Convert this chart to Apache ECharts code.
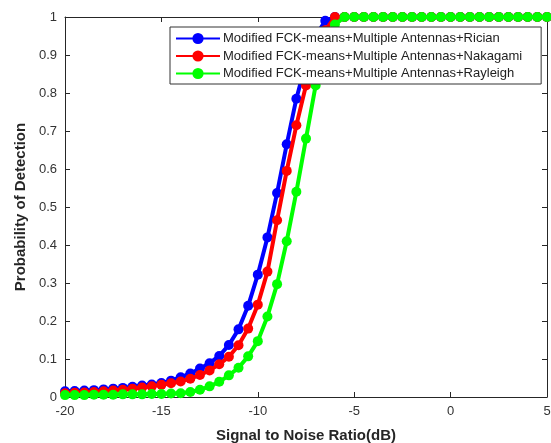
<!DOCTYPE html>
<html>
<head>
<meta charset="utf-8">
<script src="https://cdn.jsdelivr.net/npm/echarts@6/dist/echarts.min.js"></script>
<style>
html, body { margin: 0; padding: 0; background: #fff; }
#chart { width: 551px; height: 443px; }
</style>
</head>
<body>
<div id="chart"></div>
<script>
// 信噪比 (dB)
var snr = [
    -20, -19.5, -19, -18.5, -18, -17.5, -17, -16.5, -16, -15.5,
    -15, -14.5, -14, -13.5, -13, -12.5, -12, -11.5, -11, -10.5,
    -10, -9.5, -9, -8.5, -8, -7.5, -7, -6.5, -6, -5.5,
    -5, -4.5, -4, -3.5, -3, -2.5, -2, -1.5, -1, -0.5,
    0, 0.5, 1, 1.5, 2, 2.5, 3, 3.5, 4, 4.5, 5
]

// 检测概率
var rician = [
    0.015, 0.016, 0.017, 0.018, 0.020, 0.022, 0.024, 0.027, 0.030, 0.033,
    0.037, 0.043, 0.052, 0.062, 0.075, 0.089, 0.108, 0.137, 0.178, 0.240,
    0.322, 0.420, 0.537, 0.665, 0.785, 0.880, 0.950, 0.990, 1, 1,
    1, 1, 1, 1, 1, 1, 1, 1, 1, 1,
    1, 1, 1, 1, 1, 1, 1, 1, 1, 1, 1
]
var nakagami = [
    0.010, 0.011, 0.012, 0.013, 0.015, 0.017, 0.019, 0.022, 0.025, 0.028,
    0.032, 0.036, 0.041, 0.048, 0.058, 0.070, 0.086, 0.106, 0.136, 0.180,
    0.243, 0.330, 0.465, 0.595, 0.715, 0.820, 0.905, 0.965, 1, 1,
    1, 1, 1, 1, 1, 1, 1, 1, 1, 1,
    1, 1, 1, 1, 1, 1, 1, 1, 1, 1, 1
]
var rayleigh = [
    0.005, 0.005, 0.005, 0.006, 0.006, 0.006, 0.007, 0.007, 0.007, 0.008,
    0.008, 0.009, 0.010, 0.013, 0.019, 0.028, 0.040, 0.057, 0.077, 0.107,
    0.147, 0.212, 0.297, 0.410, 0.540, 0.680, 0.820, 0.925, 0.980, 1,
    1, 1, 1, 1, 1, 1, 1, 1, 1, 1,
    1, 1, 1, 1, 1, 1, 1, 1, 1, 1, 1
]

var seriesNames = [
    'Modified FCK-means+Multiple Antennas+Rician',
    'Modified FCK-means+Multiple Antennas+Nakagami',
    'Modified FCK-means+Multiple Antennas+Rayleigh'
]
var seriesData = [rician, nakagami, rayleigh]
var colors = ['#0000ff', '#ff0000', '#00ff00']

var chart = echarts.init(document.getElementById('chart'))

function buildSeries() {
    return seriesData.map(function (vals, i) {
        return {
            type: 'line',
            name: seriesNames[i],
            data: snr.map(function (x, k) { return [x, vals[k]] }),
            symbol: 'circle',
            symbolSize: 10,
            showSymbol: true,
            clip: false,
            lineStyle: { width: 4, color: colors[i] },
            itemStyle: { color: colors[i] },
            z: 2 + i
        }
    })
}

var axisColor = '#262626'
var labelStyle = { color: '#333', fontSize: 13, fontFamily: 'Liberation Sans' }
var titleStyle = { fontSize: 15, fontWeight: 'bold', color: '#262626', fontFamily: 'Liberation Sans' }

// 四周坐标轴 (box)
function boxAxis(extra) {
    return Object.assign({
        type: 'value',
        axisLine: { show: true, onZero: false, lineStyle: { color: axisColor } },
        axisTick: { inside: true, length: 5, lineStyle: { color: axisColor } },
        splitLine: { show: false }
    }, extra)
}

chart.setOption({
    backgroundColor: '#fff',
    animation: false,
    color: colors,
    grid: { left: 65, right: 4, top: 17, bottom: 46, outerBoundsMode: 'none' },
    legend: {
        orient: 'vertical',
        left: 170,
        top: 27,
        backgroundColor: '#fff',
        borderColor: '#333',
        borderWidth: 1,
        padding: [5, 19, 4, 5],
        itemGap: 4.5,
        itemWidth: 44,
        itemHeight: 14,
        textStyle: { fontSize: 13, color: '#222', fontFamily: 'Liberation Sans', padding: [0, 0, 0, -2] },
        data: seriesNames,
        z: 10
    },
    xAxis: [
        boxAxis({
            min: -20, max: 5, interval: 5,
            name: 'Signal to Noise Ratio(dB)',
            nameLocation: 'middle',
            nameGap: 31,
            nameTextStyle: titleStyle,
            axisLabel: Object.assign({ margin: 8 }, labelStyle)
        }),
        boxAxis({
            position: 'top',
            min: -20, max: 5, interval: 5,
            axisLabel: { show: false }
        })
    ],
    yAxis: [
        boxAxis({
            min: 0, max: 1, interval: 0.1,
            name: 'Probability of Detection',
            nameLocation: 'middle',
            nameGap: 36,
            nameTextStyle: titleStyle,
            axisLabel: Object.assign({ margin: 8 }, labelStyle)
        }),
        boxAxis({
            position: 'right',
            min: 0, max: 1, interval: 0.1,
            axisLabel: { show: false }
        })
    ],
    series: buildSeries()
})
</script>
</body>
</html>
